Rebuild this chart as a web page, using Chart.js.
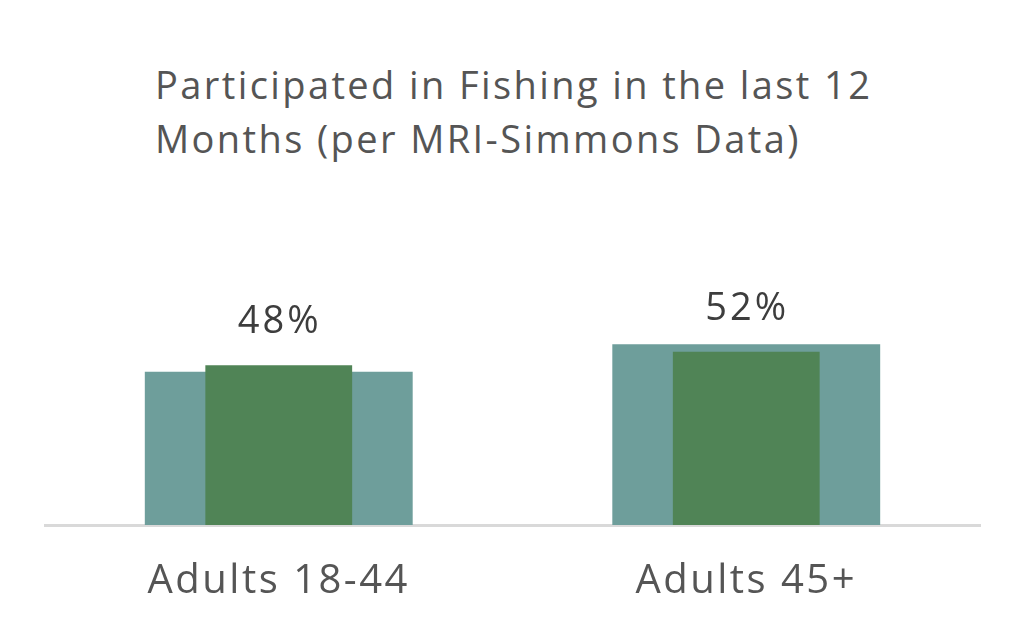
<!DOCTYPE html>
<html>
<head>
<meta charset="utf-8">
<script src="https://cdn.jsdelivr.net/npm/chart.js@4/dist/chart.umd.min.js"></script>
<style>
  html, body { margin: 0; padding: 0; background: #fff; }
  #wrap { position: relative; width: 1024px; height: 625px; }
  #title {
    position: absolute; left: 155px; top: 57px;
    font-family: "Open Sans", sans-serif; font-size: 38px; line-height: 54px;
    letter-spacing: 2.4px; color: #555555; white-space: nowrap;
  }
  canvas { position: absolute; left: 0; top: 0; }
</style>
</head>
<body>
<div id="wrap">
  <div id="title"></div>
  <canvas id="chart" width="1024" height="625"></canvas>
</div>
<script>
// data
const titleLines = ['Participated in Fishing in the last 12', 'Months (per MRI-Simmons Data)'];
const categories = ['Adults 18-44', 'Adults 45+'];
const participated = [48, 52];
const background = [46, 54.3];

document.getElementById('title').innerHTML = titleLines.join('<br>');

// the reference font is set looser than Open Sans
const spacing = {
  id: 'spacing',
  beforeUpdate(chart) { chart.ctx.letterSpacing = '2.5px'; },
  beforeDraw(chart) { chart.ctx.letterSpacing = '2.5px'; }
};

// value labels above the green bars
const valueLabels = {
  id: 'valueLabels',
  afterDatasetsDraw(chart) {
    const ctx = chart.ctx;
    const meta = chart.getDatasetMeta(0);
    ctx.save();
    ctx.letterSpacing = '3px';
    ctx.font = '38px "Open Sans", sans-serif';
    ctx.fillStyle = '#3d3d3d';
    ctx.textAlign = 'center';
    ctx.textBaseline = 'alphabetic';
    meta.data.forEach((bar, i) => {
      ctx.fillText(participated[i] + '%', bar.x + 1, bar.y - 32);
    });
    ctx.restore();
  }
};

new Chart(document.getElementById('chart'), {
  type: 'bar',
  data: {
    labels: categories,
    datasets: [
      {
        data: participated,
        backgroundColor: '#508456',
        categoryPercentage: 1,
        barPercentage: 0.314,
        grouped: false,
      },
      {
        data: background,
        backgroundColor: '#6e9e9b',
        categoryPercentage: 1,
        barPercentage: 0.573,
        grouped: false,
      },
    ],
  },
  options: {
    responsive: false,
    animation: false,
    layout: { padding: { left: 45, right: 44, top: 192, bottom: -14 } },
    plugins: { legend: { display: false }, tooltip: { enabled: false }, title: { display: false } },
    scales: {
      x: {
        grid: { display: false, drawTicks: false },
        border: { display: true, color: '#d9d9d9', width: 3 },
        ticks: { color: '#555555', padding: 33, font: { family: '"Open Sans", sans-serif', size: 40 } },
      },
      y: { display: false, min: 0, max: 100 },
    },
  },
  plugins: [spacing, valueLabels],
});
</script>
</body>
</html>
